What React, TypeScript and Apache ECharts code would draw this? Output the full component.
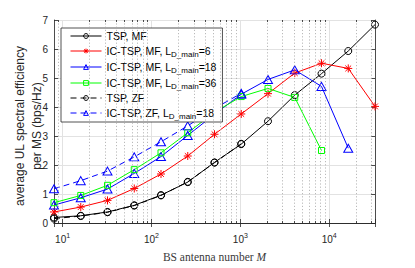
import React, { useEffect, useRef } from "react";
import * as echarts from "echarts";

const antennas = [8, 16, 32, 64, 128, 256, 512, 1024, 2048, 4096, 8192, 16384, 32768];
const tspMF = [0.19, 0.25, 0.38, 0.61, 0.96, 1.41, 2.09, 2.72, 3.51, 4.41, 5.15, 5.93, 6.84];
const icMF6 = [0.38, 0.55, 0.78, 1.19, 1.69, 2.31, 3.06, 3.76, 4.46, 5.17, 5.51, 5.33, 4.02];
const icMF18 = [0.62, 0.87, 1.17, 1.71, 2.29, 3.02, 3.75, 4.44, 4.95, 5.28, 4.71, 2.58];
const icMF36 = [0.7, 0.95, 1.3, 1.84, 2.42, 3.11, 3.82, 4.36, 4.64, 4.33, 2.5];
const tspZF = [0.15, 0.24, 0.37, 0.6, 0.95, 1.42, 2.08, 2.73];
const icZF18 = [1.18, 1.46, 1.79, 2.28, 2.8, 3.35, 3.95, 4.47];
const minorM = [9, 20, 30, 40, 50, 60, 70, 80, 90, 200, 300, 400, 500, 600, 700, 800, 900, 2000, 3000, 4000, 5000, 6000, 7000, 8000, 9000, 20000, 30000];
const yTicks = [0, 1, 2, 3, 4, 5, 6, 7];
const yTitle = "average UL spectral efficiency\nper MS (bps/Hz)";

const names = [
  "TSP, MF",
  "IC-TSP, MF, L_D_main=6",
  "IC-TSP, MF, L_D_main=18",
  "IC-TSP, MF, L_D_main=36",
  "TSP, ZF",
  "IC-TSP, ZF, L_D_main=18",
];

const pairs = (vals: number[]) => vals.map((v, i) => [antennas[i], v]);

const star = "path://M0,-5L0,5M-5,0L5,0M-3.6,-3.6L3.6,3.6M-3.6,3.6L3.6,-3.6";

export default function App() {
  const ref = useRef<HTMLDivElement>(null);
  useEffect(() => {
    const chart = echarts.init(ref.current!, null, { renderer: "svg" });
    const axisColor = "#262626";
    const font = "Liberation Sans";
    const mk = (
      name: string,
      vals: number[],
      color: string,
      symbol: string,
      size: number | number[],
      dashed: boolean
    ) => ({
      type: "line",
      name,
      color,
      data: pairs(vals),
      z: 3,
      symbol,
      symbolSize: size,
      lineStyle: { color, width: 1, type: dashed ? [6, 4] : "solid" },
      itemStyle: { color: "transparent", borderColor: color, borderWidth: 1 },
    });
    const isPow = (v: number) => Math.abs(Math.log10(v) - Math.round(Math.log10(v))) < 1e-6;
    const option: any = {
      animation: false,
      grid: { left: 54, right: 40, top: 20, bottom: 34 },
      graphic: [
        {
          type: "text",
          x: 28.5,
          y: 126,
          rotation: Math.PI / 2,
          style: {
            text: yTitle,
            font: '12px "Liberation Sans"',
            fill: axisColor,
            align: "center",
            verticalAlign: "middle",
            lineHeight: 17,
          },
        },
      ],
      legend: {
        data: names,
        orient: "vertical",
        left: 61,
        top: 28,
        itemWidth: 31,
        itemHeight: 6,
        itemGap: 2,
        padding: [2, 6, 2, 9],
        borderColor: axisColor,
        borderWidth: 0.8,
        backgroundColor: "#fff",
        itemStyle: { color: "transparent", borderWidth: 1 },
        lineStyle: { width: 1 },
        formatter: (n: string) => n.replace("L_D_main", "L{sub|D_main}"),
        textStyle: {
          fontFamily: font,
          fontSize: 10.5,
          color: "#000",
          lineHeight: 12,
          rich: { sub: { fontSize: 8, fontFamily: font, color: "#000", padding: [6, 0, 0, 0], lineHeight: 12 } },
        },
      },
      xAxis: [
        {
          type: "log",
          logBase: 10,
          min: 8,
          max: 32768,
          axisLine: { lineStyle: { color: axisColor, width: 0.8 } },
          axisTick: { inside: true, length: 4, lineStyle: { color: axisColor, width: 0.8 } },
          axisLabel: {
            margin: 9,
            color: axisColor,
            fontFamily: font,
            fontSize: 10,
            formatter: (v: number) => (isPow(v) ? `10{sup|${Math.round(Math.log10(v))}}` : ""),
            rich: { sup: { fontSize: 7, fontFamily: font, color: axisColor, padding: [0, 0, 7, 0] } },
          },
          splitLine: { show: true, lineStyle: { color: "#e2e2e2", width: 1 } },
          name: "BS antenna number {i|M}",
          nameLocation: "middle",
          nameGap: 28,
          nameTextStyle: {
            fontFamily: "Liberation Serif",
            fontSize: 11.5,
            color: "#3a3a3a",
            rich: { i: { fontStyle: "italic", fontFamily: "Liberation Serif", fontSize: 11.5, color: "#3a3a3a" } },
          },
        },
        {
          type: "log",
          logBase: 10,
          min: 8,
          max: 32768,
          position: "top",
          axisLine: { lineStyle: { color: axisColor, width: 0.8 } },
          axisTick: { inside: true, length: 4, lineStyle: { color: axisColor, width: 0.8 } },
          axisLabel: { show: false },
          splitLine: { show: false },
        },
      ],
      yAxis: [
        {
          type: "value",
          min: 0,
          max: 7,
          interval: 1,
          axisLine: { show: true, lineStyle: { color: axisColor, width: 0.8 } },
          axisTick: { show: true, inside: true, length: 4, lineStyle: { color: axisColor, width: 0.8 } },
          axisLabel: {
            margin: 6,
            color: axisColor,
            fontFamily: font,
            fontSize: 10,
            formatter: (v: number) => (yTicks.includes(v) ? String(v) : ""),
          },
          splitLine: { show: true, lineStyle: { color: "#e2e2e2", width: 1 } },
        },
        {
          type: "value",
          min: 0,
          max: 7,
          interval: 1,
          position: "right",
          axisLine: { show: true, lineStyle: { color: axisColor, width: 0.8 } },
          axisTick: { show: true, inside: true, length: 4, lineStyle: { color: axisColor, width: 0.8 } },
          axisLabel: { show: false },
          splitLine: { show: false },
        },
      ],
      series: [
        {
          type: "line",
          name: "minor-grid",
          data: [],
          z: 1,
          silent: true,
          markLine: {
            silent: true,
            symbol: "none",
            label: { show: false },
            animation: false,
            lineStyle: { type: [1.2, 2], color: "#a8a8a8", width: 0.8 },
            data: minorM.map((v) => ({ xAxis: v })),
          },
        },
        {
          type: "line",
          name: "minor-ticks",
          data: [],
          z: 2,
          silent: true,
          markLine: {
            silent: true,
            symbol: "none",
            label: { show: false },
            animation: false,
            lineStyle: { type: "solid", color: axisColor, width: 0.8 },
            data: [
              ...minorM.map((v) => [{ coord: [v, 0] }, { coord: [v, 0.07] }]),
              ...minorM.map((v) => [{ coord: [v, 7] }, { coord: [v, 6.93] }]),
            ],
          },
        },
        mk(names[0], tspMF, "#000000", "circle", 7, false),
        mk(names[1], icMF6, "#ff0000", star, 8, false),
        mk(names[2], icMF18, "#0000ff", "triangle", [9, 8], false),
        mk(names[3], icMF36, "#00ff00", "rect", 6, false),
        mk(names[4], tspZF, "#000000", "circle", 7, true),
        mk(names[5], icZF18, "#0000ff", "triangle", [9, 8], true),
      ],
    };
    chart.setOption(option);
    return () => chart.dispose();
  }, []);
  return <div ref={ref} style={{ position: "fixed", left: 0, top: 0, width: 415, height: 268, background: "#fff" }} />;
}
